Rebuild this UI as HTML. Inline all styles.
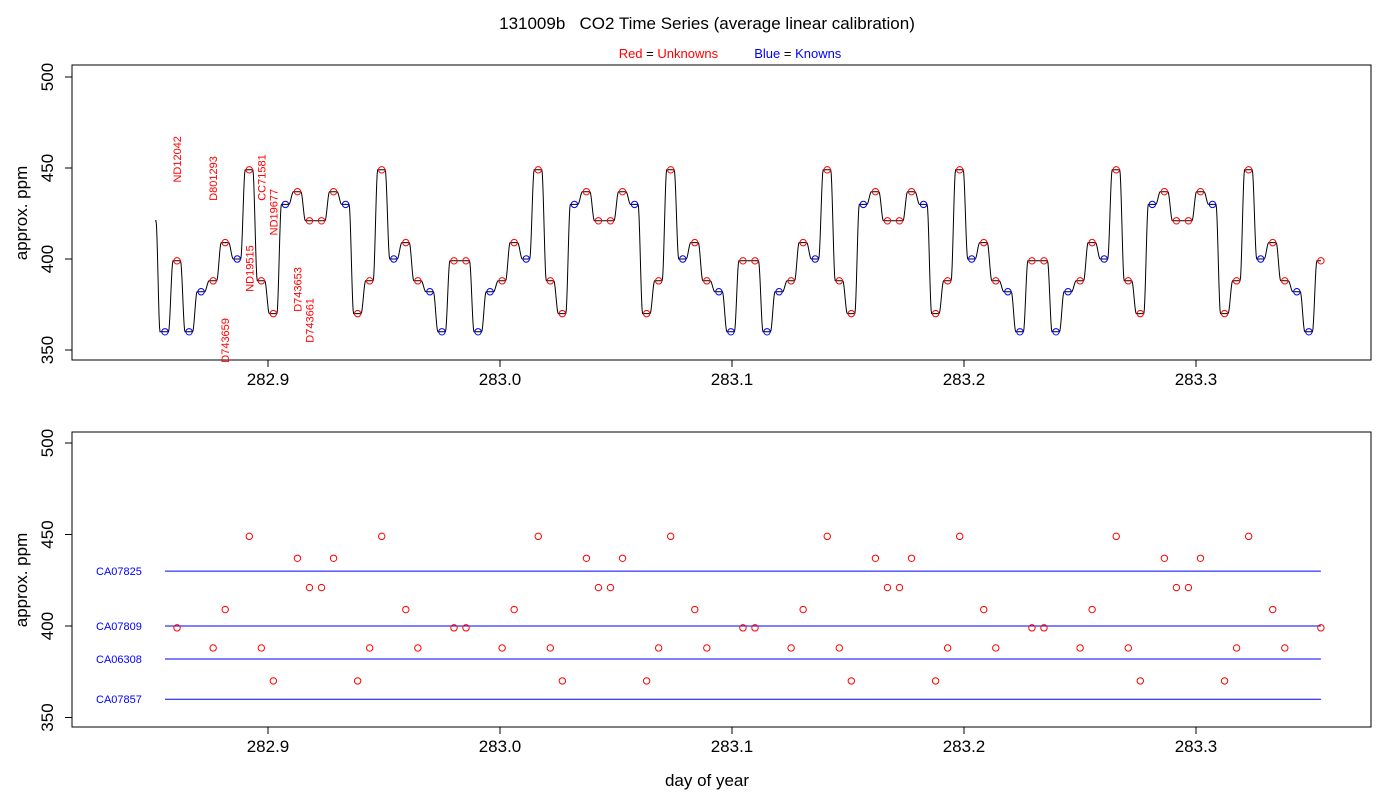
<!DOCTYPE html>
<html><head><meta charset="utf-8"><style>
body{margin:0;background:#fff}
svg{font-family:"Liberation Sans",sans-serif}
</style></head><body>
<svg id="c" width="1400" height="800" viewBox="0 0 1400 800" xmlns="http://www.w3.org/2000/svg">
<text x="707" y="29" text-anchor="middle" font-size="17" xml:space="preserve">131009b   CO2 Time Series (average linear calibration)</text>
<text x="730" y="58" text-anchor="middle" font-size="13"><tspan fill="red">Red</tspan> = <tspan fill="red">Unknowns</tspan><tspan xml:space="preserve">          </tspan><tspan fill="blue">Blue</tspan> = <tspan fill="blue">Knowns</tspan></text>
<rect x="72" y="65" width="1299" height="295" fill="none" stroke="#000"/>
<rect x="72" y="432" width="1299" height="295" fill="none" stroke="#000"/>
<text transform="translate(27,213) rotate(-90)" text-anchor="middle" font-size="17">approx. ppm</text>
<text transform="translate(27,580) rotate(-90)" text-anchor="middle" font-size="17">approx. ppm</text>
<text x="707" y="786" text-anchor="middle" font-size="17">day of year</text>
<g id="g"></g>
</svg>
<script>
const seqVals=[360,399,360,382,388,409,400,449,388,370,430,437,421,421,437,430,370,388,449,400,409,388,382,360];
const seqKinds=['K','U','K','K','U','U','K','U','U','U','K','U','U','U','U','K','U','U','U','K','U','U','K','K'];
const startDay=282.85560;
const stepDay=0.0051900;
const nSamples=97;
const knownNames=['CA07825','CA07809','CA06308','CA07857'];
const knownVals=[430,400,382,360];
const labelNames=['ND12042','D801293','D743659','ND19515','CC71581','ND19677','D743653','D743661'];
const labelBottomPpm=[442,432,343,382,432,413,371,354];
const xTicks=[282.9,283.0,283.1,283.2,283.3];
const yTicks=[350,400,450,500];
const startVal=421;

const values=[],kinds=[],days=[];
for(let i=0;i<nSamples;i++){
  let v,k;
  if(i===0){v=seqVals[0];k=seqKinds[0];}
  else{const j=((i-1)%24)+1;
    if(j===24){v=399;k='U';}else{v=seqVals[j];k=seqKinds[j];}}
  values.push(v);kinds.push(k);days.push(startDay+i*stepDay);
}
const g=document.getElementById('g');
const NS='http://www.w3.org/2000/svg';
function X(d){return 268+(d-282.9)*2320;}
function Yt(v){return 259-(v-400)*1.82;}
function Yb(v){return 626-(v-400)*1.83;}
function el(t,a,p){const e=document.createElementNS(NS,t);for(const k in a)e.setAttribute(k,a[k]);(p||g).appendChild(e);return e;}

xTicks.forEach(t=>{[[360,'top'],[727,'bottom']].forEach(([y0,pn])=>{
  const l=el('line',{x1:X(t),x2:X(t),y1:y0,y2:y0+7,stroke:'#000'});
  
  
  const tx=el('text',{x:X(t),y:y0+25,'text-anchor':'middle','font-size':17});
  tx.textContent=t.toFixed(1);
  
  
});});
el('line',{x1:X(282.9),x2:X(283.3),y1:360,y2:360,stroke:'#000'});
el('line',{x1:X(282.9),x2:X(283.3),y1:727,y2:727,stroke:'#000'});
yTicks.forEach(t=>{[[Yt,'top'],[Yb,'bottom']].forEach(([f,pn])=>{
  const l=el('line',{x1:65,x2:72,y1:f(t),y2:f(t),stroke:'#000'});
  
  
  const tx=el('text',{transform:`translate(53,${f(t)}) rotate(-90)`,'text-anchor':'middle','font-size':17});
  tx.textContent=t;
  
  
});});

let pts=[];
const x0=X(days[0])-10;
for(let x=x0;x<=X(days[0]);x+=0.5){const t=Math.min(1,Math.max(0,(x-x0-1)/4));const s=t*t*(3-2*t);pts.push([x,Yt(startVal+(values[0]-startVal)*s)]);}
for(let i=0;i<nSamples-1;i++){
  const xa=X(days[i]),xb=X(days[i+1]);
  for(let x=xa;x<xb;x+=0.5){const t=Math.min(1,Math.max(0,(x-xa-3.5)/4.5));const s=t*t*(3-2*t);pts.push([x,Yt(values[i]+(values[i+1]-values[i])*s)]);}
}
pts.push([X(days[nSamples-1]),Yt(values[nSamples-1])]);
const pl=el('polyline',{points:pts.map(p=>p[0].toFixed(1)+','+p[1].toFixed(1)).join(' '),fill:'none',stroke:'#000','stroke-width':1});



for(let i=0;i<nSamples;i++){
  const c=el('circle',{cx:X(days[i]),cy:Yt(values[i]),r:3.2,fill:'none',stroke:kinds[i]==='U'?'red':'blue'});
  
  
}
let li=0;
for(let i=0;i<nSamples&&li<labelNames.length;i++){
  if(kinds[i]!=='U')continue;
  const x=X(days[i]);
  const tx=el('text',{transform:`translate(${x+4},${Yt(labelBottomPpm[li])}) rotate(-90)`,'font-size':11,fill:'red'});
  tx.textContent=labelNames[li];
  
  
  li++;
}
knownVals.forEach((v,k)=>{
  const l=el('line',{x1:X(days[0]),x2:X(days[nSamples-1]),y1:Yb(v),y2:Yb(v),stroke:'blue'});
  
  
  const tx=el('text',{x:96,y:Yb(v)+4,'font-size':11,fill:'blue'});
  tx.textContent=knownNames[k];
  
  
});
for(let i=0;i<nSamples;i++){
  if(kinds[i]!=='U')continue;
  const c=el('circle',{cx:X(days[i]),cy:Yb(values[i]),r:3.2,fill:'none',stroke:'red'});
  
  
}
</script>
</body></html>
